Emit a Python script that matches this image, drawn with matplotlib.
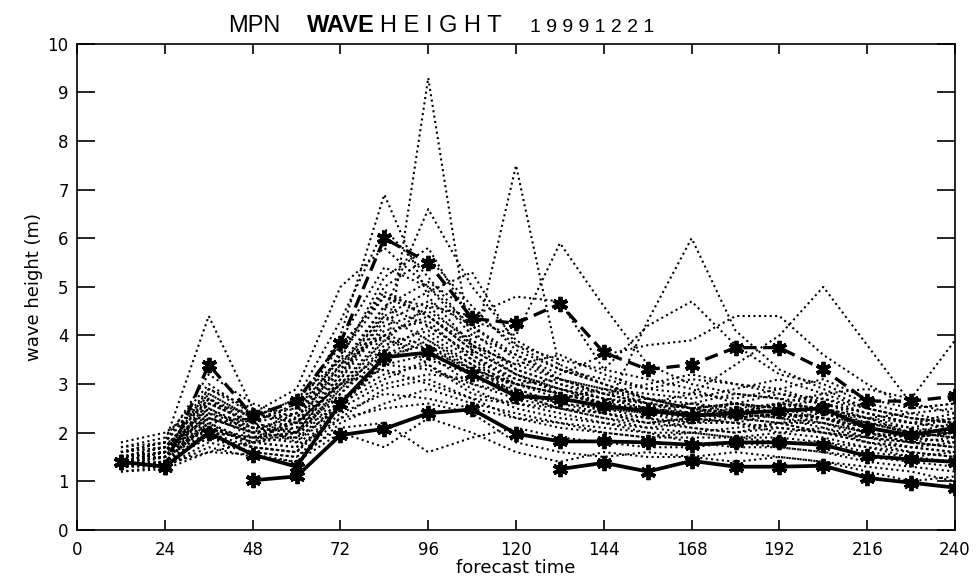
import numpy as np
import matplotlib.pyplot as plt

plt.rcParams['font.family'] = ['Liberation Sans', 'DejaVu Sans']

# forecast steps (hours)
hours = [12, 24, 36, 48, 60, 72, 84, 96, 108, 120, 132, 144, 156, 168, 180, 192, 204, 216, 228, 240]
nan = np.nan

# heavy lines with star markers
dashed_star = [1.4, 1.3, 3.4, 2.35, 2.65, 3.85, 6.0, 5.5, 4.35, 4.25, 4.65, 3.65, 3.3, 3.4, 3.75, 3.75, 3.3, 2.65, 2.65, 2.75]
solid_mid = [1.4, 1.3, 2.0, 1.55, 1.3, 2.6, 3.55, 3.65, 3.2, 2.75, 2.7, 2.55, 2.45, 2.35, 2.4, 2.45, 2.5, 2.1, 1.95, 2.1]
solid_low = [nan, nan, nan, 1.02, 1.1, 1.95, 2.08, 2.4, 2.48, 1.98, 1.82, 1.82, 1.8, 1.75, 1.8, 1.8, 1.75, 1.52, 1.45, 1.4]
solid_bottom = [nan, nan, nan, nan, nan, nan, nan, nan, nan, nan, 1.25, 1.38, 1.2, 1.42, 1.3, 1.3, 1.32, 1.07, 0.97, 0.87]

# ensemble members (dotted)
members = [
    [1.5, 1.7, 2.5, 2.1, 2.2, 3.0, 3.3, 9.3, 3.6, 7.5, 3.3, 3.0, 2.7, 2.5, 2.6, 2.4, 2.3, 2.2, 2.0, 1.9],
    [1.4, 1.5, 2.6, 2.2, 2.4, 4.0, 6.9, 4.8, 3.8, 3.2, 2.9, 2.6, 2.5, 2.3, 2.2, 2.4, 2.3, 2.0, 1.8, 1.7],
    [1.3, 1.4, 2.2, 1.8, 2.0, 3.2, 4.5, 6.6, 5.0, 3.9, 3.4, 3.0, 2.7, 2.5, 2.6, 2.5, 2.3, 2.1, 1.9, 2.0],
    [1.4, 1.6, 2.8, 2.3, 2.5, 3.5, 5.2, 5.8, 4.3, 4.0, 5.9, 4.6, 3.4, 3.0, 2.8, 2.7, 2.6, 2.4, 2.2, 2.3],
    [1.5, 1.6, 2.3, 2.0, 2.1, 3.3, 4.6, 4.2, 3.6, 3.0, 2.8, 2.4, 4.3, 6.0, 4.1, 3.3, 2.9, 2.5, 2.3, 2.2],
    [1.4, 1.5, 2.1, 1.9, 1.8, 2.8, 3.8, 4.1, 3.5, 3.1, 2.9, 2.7, 2.6, 2.8, 3.4, 4.0, 5.0, 3.8, 2.6, 2.4],
    [1.6, 1.8, 4.4, 2.5, 2.2, 3.0, 4.0, 3.8, 3.3, 2.8, 2.6, 2.4, 2.2, 2.1, 2.0, 2.1, 2.0, 1.8, 1.7, 1.6],
    [1.3, 1.4, 2.0, 1.7, 1.6, 2.6, 3.4, 3.6, 3.0, 2.7, 2.5, 2.3, 2.2, 2.3, 2.5, 2.6, 2.8, 2.9, 2.7, 3.9],
    [1.4, 1.5, 2.4, 2.1, 2.3, 3.6, 4.8, 4.6, 4.4, 4.8, 4.7, 3.3, 4.2, 4.7, 3.8, 3.2, 3.0, 2.6, 2.4, 2.2],
    [1.5, 1.7, 2.7, 2.2, 2.6, 3.9, 5.4, 5.0, 4.0, 3.6, 3.2, 3.6, 3.8, 3.9, 4.4, 4.4, 3.6, 3.0, 2.5, 2.6],
    [1.4, 1.6, 2.5, 2.0, 2.2, 3.4, 4.4, 4.9, 5.3, 3.8, 3.3, 3.0, 2.7, 2.6, 2.4, 2.3, 2.2, 2.0, 1.9, 1.8],
    [1.6, 1.8, 2.9, 2.4, 2.9, 5.0, 5.8, 5.0, 4.2, 3.5, 3.1, 2.8, 2.6, 2.5, 2.4, 2.6, 2.5, 2.3, 2.1, 2.0],
    [1.3, 1.3, 1.8, 1.6, 1.5, 2.1, 2.2, 1.6, 1.9, 2.1, 1.9, 1.8, 1.7, 1.7, 1.8, 1.7, 1.6, 1.5, 1.4, 1.3],
    [1.2, 1.25, 1.6, 1.55, 1.4, 2.0, 1.7, 2.3, 2.0, 1.6, 1.4, 1.6, 1.5, 1.5, 1.4, 1.5, 1.4, 1.2, 1.0, 1.1],
    [1.8, 2.0, 2.6, 2.4, 2.2, 3.0, 3.6, 4.0, 3.4, 3.0, 2.8, 2.6, 2.5, 2.4, 2.6, 2.8, 2.7, 2.5, 2.3, 2.2],
    [1.7, 1.9, 3.0, 2.4, 2.5, 3.8, 4.8, 4.4, 3.8, 3.4, 3.6, 3.2, 2.9, 3.1, 3.0, 2.9, 2.6, 2.3, 2.2, 2.1],
    [1.3, 1.4, 2.2, 1.8, 1.7, 2.7, 3.2, 3.4, 2.9, 2.5, 2.3, 2.2, 2.1, 2.0, 2.1, 2.2, 2.0, 1.9, 1.8, 1.9],
    [1.4, 1.5, 2.0, 1.9, 1.9, 2.5, 3.0, 3.2, 3.1, 2.9, 2.6, 2.5, 2.3, 2.2, 2.2, 2.0, 2.1, 1.8, 1.6, 1.5],
    [1.5, 1.7, 2.3, 2.1, 2.0, 2.9, 3.9, 3.7, 3.3, 3.0, 2.7, 2.9, 2.7, 2.5, 2.3, 2.4, 2.5, 2.2, 2.0, 2.1],
    [1.3, 1.4, 1.9, 1.7, 1.6, 2.4, 2.8, 2.7, 2.5, 2.3, 2.2, 2.0, 1.9, 1.9, 1.9, 1.8, 1.8, 1.7, 1.6, 1.5],
    [1.6, 1.7, 2.7, 2.3, 2.4, 3.6, 5.0, 5.6, 4.6, 3.7, 3.3, 3.1, 2.9, 2.8, 2.7, 2.9, 3.1, 2.7, 2.5, 2.6],
    [1.4, 1.6, 2.4, 2.2, 2.0, 3.1, 4.2, 4.5, 3.9, 3.3, 3.0, 2.8, 3.0, 3.2, 3.0, 2.8, 2.6, 2.4, 2.2, 2.4],
    [1.5, 1.5, 2.1, 1.8, 2.3, 3.4, 4.0, 3.4, 2.8, 2.6, 2.4, 2.2, 2.0, 2.0, 1.9, 2.0, 1.9, 1.7, 1.5, 1.6],
    [1.3, 1.4, 2.3, 2.0, 1.9, 2.9, 3.7, 4.2, 3.6, 3.1, 2.9, 2.6, 2.4, 2.3, 2.4, 2.6, 2.4, 2.1, 1.9, 1.8],
    [1.7, 1.8, 2.8, 2.3, 2.7, 4.3, 6.2, 5.2, 4.1, 3.3, 3.0, 2.7, 2.5, 2.4, 2.3, 2.2, 2.3, 2.1, 1.9, 2.0],
    [1.4, 1.5, 2.2, 1.7, 1.6, 2.5, 3.5, 3.9, 3.4, 2.8, 2.5, 2.4, 2.2, 2.3, 2.2, 2.1, 2.0, 1.8, 1.7, 1.6],
    [1.5, 1.6, 2.5, 2.0, 2.1, 3.2, 4.3, 4.7, 4.2, 3.6, 3.1, 2.9, 2.8, 2.7, 2.9, 3.1, 2.8, 2.5, 2.3, 2.2],
    [1.2, 1.3, 1.7, 1.5, 1.4, 2.2, 2.6, 2.9, 2.6, 2.4, 2.2, 2.1, 2.0, 1.8, 1.7, 1.7, 1.6, 1.4, 1.3, 1.2],
    [1.6, 1.8, 3.2, 2.6, 2.3, 3.3, 4.1, 4.3, 3.5, 2.9, 2.6, 2.5, 2.4, 2.6, 2.8, 2.7, 2.4, 2.2, 2.1, 2.3],
    [1.4, 1.5, 2.0, 1.9, 2.2, 3.0, 3.3, 3.0, 2.7, 2.6, 2.5, 2.4, 2.3, 2.1, 2.0, 2.2, 2.2, 1.9, 1.8, 1.7],
    [1.5, 1.6, 2.6, 2.2, 1.8, 2.6, 3.1, 3.5, 3.2, 3.0, 2.8, 2.6, 2.4, 2.2, 2.3, 2.4, 2.3, 2.0, 1.9, 2.0],
    [1.3, 1.5, 2.4, 1.9, 2.0, 3.7, 4.9, 4.4, 3.7, 3.2, 2.9, 2.7, 2.5, 2.6, 2.5, 2.3, 2.4, 2.2, 2.0, 1.9],
    [1.4, 1.4, 1.9, 1.6, 1.5, 2.3, 2.9, 3.1, 2.7, 2.3, 2.1, 2.0, 1.9, 2.0, 1.9, 1.9, 1.8, 1.6, 1.5, 1.4],
    [1.6, 1.7, 2.3, 2.0, 2.4, 3.4, 4.6, 5.1, 4.5, 3.8, 3.5, 3.3, 3.1, 2.9, 2.6, 2.5, 2.7, 2.4, 2.2, 2.1],
    [1.5, 1.6, 2.9, 2.5, 2.0, 2.8, 3.6, 3.8, 3.2, 2.8, 2.7, 2.5, 2.4, 2.4, 2.5, 2.4, 2.2, 2.0, 1.8, 1.7],
    [1.4, 1.6, 2.1, 1.8, 1.9, 3.0, 3.9, 4.6, 3.8, 3.4, 3.1, 2.8, 2.6, 2.5, 2.6, 2.5, 2.4, 2.3, 2.4, 2.5],
    [1.3, 1.35, 1.6, 1.8, 1.7, 2.3, 2.5, 2.6, 2.4, 1.8, 1.6, 1.5, 1.6, 1.5, 1.6, 1.5, 1.4, 1.3, 1.2, 1.0],
    [1.5, 1.6, 2.2, 2.3, 2.7, 3.5, 4.0, 4.4, 3.7, 3.2, 2.8, 2.6, 2.7, 2.5, 2.4, 2.6, 2.5, 2.3, 2.0, 2.2],
    [1.4, 1.5, 2.7, 2.1, 2.0, 3.1, 4.4, 3.9, 3.3, 3.0, 3.1, 2.9, 2.6, 2.4, 2.3, 2.2, 2.0, 1.9, 2.0, 1.9],
    [1.6, 1.8, 2.0, 1.9, 2.0, 2.6, 3.4, 3.3, 3.0, 2.8, 2.5, 2.3, 2.1, 2.2, 2.4, 2.3, 2.1, 1.9, 1.7, 1.8],
]

xticks = list(range(0, 241, 24))
yticks = list(range(0, 11))

fig = plt.figure(figsize=(9.79, 5.81), dpi=100)
ax = fig.add_axes([0.0787, 0.088, 0.8968, 0.8365])

for m in members:
    ax.plot(hours, m, color='black', linestyle=(0, (1, 1.6)), linewidth=1.5)

star = (6, 2, 0)
ax.plot(hours, dashed_star, color='black', linestyle=(0, (4, 2)), linewidth=2.4,
        marker=star, markersize=11, markeredgewidth=2.8)
for line in [solid_mid, solid_low, solid_bottom]:
    ax.plot(hours, line, color='black', linestyle='-', linewidth=2.7,
            marker=star, markersize=11, markeredgewidth=2.8)

ax.set_xlim(0, 240)
ax.set_ylim(0, 10)
ax.set_xticks(xticks)
ax.set_yticks(yticks)
ax.tick_params(axis='both', direction='in', top=True, right=True, width=1.2)
ax.tick_params(axis='x', length=7, pad=8)
ax.tick_params(axis='y', length=13, pad=6)
for lab in ax.get_xticklabels() + ax.get_yticklabels():
    lab.set_family('DejaVu Sans')
    lab.set_fontsize(12)
for s in ax.spines.values():
    s.set_linewidth(1.2)

ax.set_xlabel('forecast time', fontsize=13, family='DejaVu Sans', labelpad=0)
ax.set_ylabel('wave height (m)', fontsize=13, family='DejaVu Sans', labelpad=3)

# title in pieces: "WAVE" is bold, letters of "HEIGHT" are spread out
ty = 1 - 32 / 581
fig.text(228 / 979, ty, 'MPN', fontsize=17, ha='left', va='baseline')
fig.text(307 / 979, ty, 'WAVE', fontsize=17, fontweight='bold', ha='left', va='baseline')
fig.text(380 / 979, ty, 'H E I G H T', fontsize=17, ha='left', va='baseline')
fig.text(530 / 979, ty, '1 9 9 9 1 2 2 1', fontsize=14, ha='left', va='baseline')

plt.savefig('out.png', dpi=100)
plt.close()
